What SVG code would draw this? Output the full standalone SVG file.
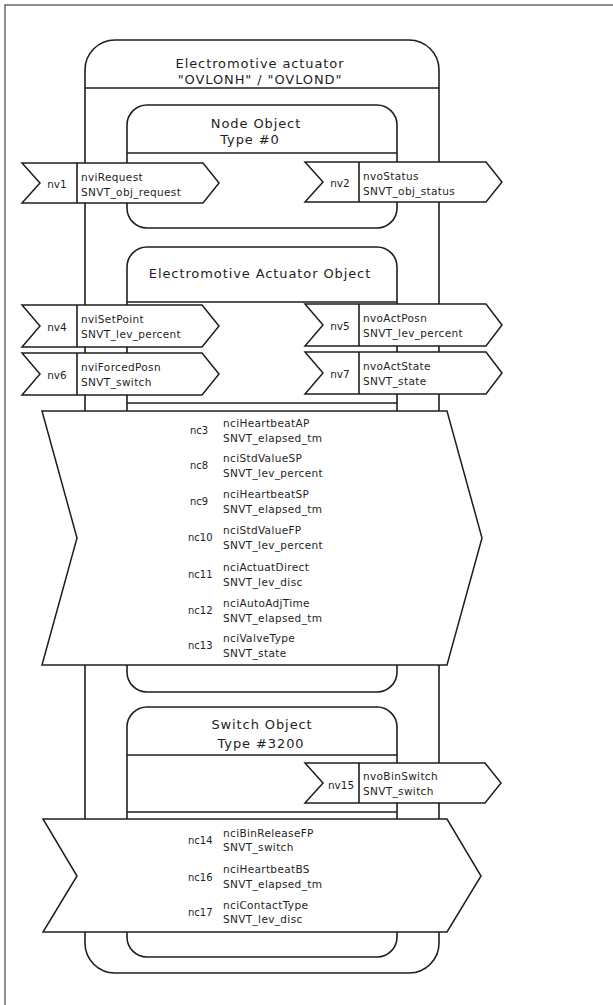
<svg xmlns="http://www.w3.org/2000/svg" width="613" height="1005" viewBox="0 0 613 1005">
<style>
.ln{fill:none;stroke:#1e1e1e;stroke-width:1.6}
.box{fill:#fff;stroke:#1e1e1e;stroke-width:1.6}
.flag{fill:#fff;stroke:#1e1e1e;stroke-width:1.5;stroke-linejoin:miter}
.frame{fill:none;stroke:#6a6a6a;stroke-width:1.5}
text{font-family:"DejaVu Sans","Liberation Sans",sans-serif;fill:#1e1e1e}
.t{font-size:13px;letter-spacing:0.9px;text-anchor:middle}
.f{font-size:10.5px;letter-spacing:0.35px}
.n{font-size:10.5px;text-anchor:middle}
.c{font-size:10px}
</style>
<rect width="613" height="1005" fill="#fff"/>
<path class="frame" d="M5,1005 V5 H613"/>

<g id="device">
<rect class="box" x="85" y="40" width="354" height="933" rx="30"/>
<line class="ln" x1="85" y1="88" x2="439" y2="88"/>
<text class="t" x="260" y="68">Electromotive actuator</text>
<text class="t" x="260" y="84">"OVLONH" / "OVLOND"</text>
</g>

<g id="node-object">
<rect class="box" x="127" y="105" width="270" height="123" rx="20"/>
<line class="ln" x1="127" y1="153" x2="397" y2="153"/>
<text class="t" x="256" y="128">Node Object</text>
<text class="t" x="250" y="144">Type #0</text>
</g>

<g id="ea-object">
<rect class="box" x="127" y="247" width="270" height="445" rx="20"/>
<line class="ln" x1="127" y1="302" x2="397" y2="302"/>
<line class="ln" x1="127" y1="403" x2="397" y2="403"/>
<text class="t" x="260" y="278">Electromotive Actuator Object</text>
</g>

<g id="switch-object">
<rect class="box" x="127" y="707" width="270" height="250" rx="20"/>
<line class="ln" x1="127" y1="755" x2="397" y2="755"/>
<line class="ln" x1="127" y1="812" x2="397" y2="812"/>
<text class="t" x="262" y="729">Switch Object</text>
<text class="t" x="261" y="748">Type #3200</text>
</g>

<g id="connectors">
<g id="nv1">
<path class="flag" d="M22,163 H203 L219,183 L203,203 H22 L40,183 Z"/>
<line class="ln" x1="77" y1="163" x2="77" y2="203"/>
<text class="n" x="57" y="188">nv1</text>
<text class="f" x="81" y="181">nviRequest</text>
<text class="f" x="81" y="196">SNVT_obj_request</text>
</g>
<g id="nv2">
<path class="flag" d="M305,162 H486 L502,182 L486,202 H305 L323,182 Z"/>
<line class="ln" x1="359" y1="162" x2="359" y2="202"/>
<text class="n" x="340" y="187">nv2</text>
<text class="f" x="363" y="180">nvoStatus</text>
<text class="f" x="363" y="195">SNVT_obj_status</text>
</g>
<g id="nv4">
<path class="flag" d="M22,305 H202 L219,326 L202,347 H22 L40,326 Z"/>
<line class="ln" x1="77" y1="305" x2="77" y2="347"/>
<text class="n" x="57" y="331">nv4</text>
<text class="f" x="81" y="323">nviSetPoint</text>
<text class="f" x="81" y="338">SNVT_lev_percent</text>
</g>
<g id="nv5">
<path class="flag" d="M305,304 H486 L502,325 L486,346 H305 L323,325 Z"/>
<line class="ln" x1="359" y1="304" x2="359" y2="346"/>
<text class="n" x="340" y="330">nv5</text>
<text class="f" x="363" y="322">nvoActPosn</text>
<text class="f" x="363" y="337">SNVT_lev_percent</text>
</g>
<g id="nv6">
<path class="flag" d="M22,353 H202 L219,374 L202,395 H22 L40,374 Z"/>
<line class="ln" x1="77" y1="353" x2="77" y2="395"/>
<text class="n" x="57" y="379">nv6</text>
<text class="f" x="81" y="371">nviForcedPosn</text>
<text class="f" x="81" y="386">SNVT_switch</text>
</g>
<g id="nv7">
<path class="flag" d="M305,352 H486 L502,373 L486,394 H305 L323,373 Z"/>
<line class="ln" x1="359" y1="352" x2="359" y2="394"/>
<text class="n" x="340" y="378">nv7</text>
<text class="f" x="363" y="370">nvoActState</text>
<text class="f" x="363" y="385">SNVT_state</text>
</g>
<g id="nc-ea">
<path class="flag" d="M42,411 H447 L482,538 L447,665 H42 L77,538 Z"/>
<text class="c" x="190" y="434">nc3</text>
<text class="f" x="223" y="427">nciHeartbeatAP</text>
<text class="f" x="223" y="442">SNVT_elapsed_tm</text>
<text class="c" x="190" y="469">nc8</text>
<text class="f" x="223" y="462">nciStdValueSP</text>
<text class="f" x="223" y="477">SNVT_lev_percent</text>
<text class="c" x="190" y="505">nc9</text>
<text class="f" x="223" y="498">nciHeartbeatSP</text>
<text class="f" x="223" y="513">SNVT_elapsed_tm</text>
<text class="c" x="188" y="541">nc10</text>
<text class="f" x="223" y="534">nciStdValueFP</text>
<text class="f" x="223" y="549">SNVT_lev_percent</text>
<text class="c" x="188" y="578">nc11</text>
<text class="f" x="223" y="571">nciActuatDirect</text>
<text class="f" x="223" y="586">SNVT_lev_disc</text>
<text class="c" x="188" y="614">nc12</text>
<text class="f" x="223" y="607">nciAutoAdjTime</text>
<text class="f" x="223" y="622">SNVT_elapsed_tm</text>
<text class="c" x="188" y="649">nc13</text>
<text class="f" x="223" y="642">nciValveType</text>
<text class="f" x="223" y="657">SNVT_state</text>
</g>
<g id="nv15">
<path class="flag" d="M305,763 H485 L501,783 L485,803 H305 L323,783 Z"/>
<line class="ln" x1="359" y1="763" x2="359" y2="803"/>
<text class="n" x="341" y="789">nv15</text>
<text class="f" x="363" y="780">nvoBinSwitch</text>
<text class="f" x="363" y="795">SNVT_switch</text>
</g>
<g id="nc-switch">
<path class="flag" d="M43,819 H447 L481,876 L447,932 H43 L77,876 Z"/>
<text class="c" x="188" y="844">nc14</text>
<text class="f" x="223" y="837">nciBinReleaseFP</text>
<text class="f" x="223" y="851">SNVT_switch</text>
<text class="c" x="188" y="881">nc16</text>
<text class="f" x="223" y="873">nciHeartbeatBS</text>
<text class="f" x="223" y="888">SNVT_elapsed_tm</text>
<text class="c" x="188" y="916">nc17</text>
<text class="f" x="223" y="909">nciContactType</text>
<text class="f" x="223" y="923">SNVT_lev_disc</text>
</g>
</g>
</svg>
